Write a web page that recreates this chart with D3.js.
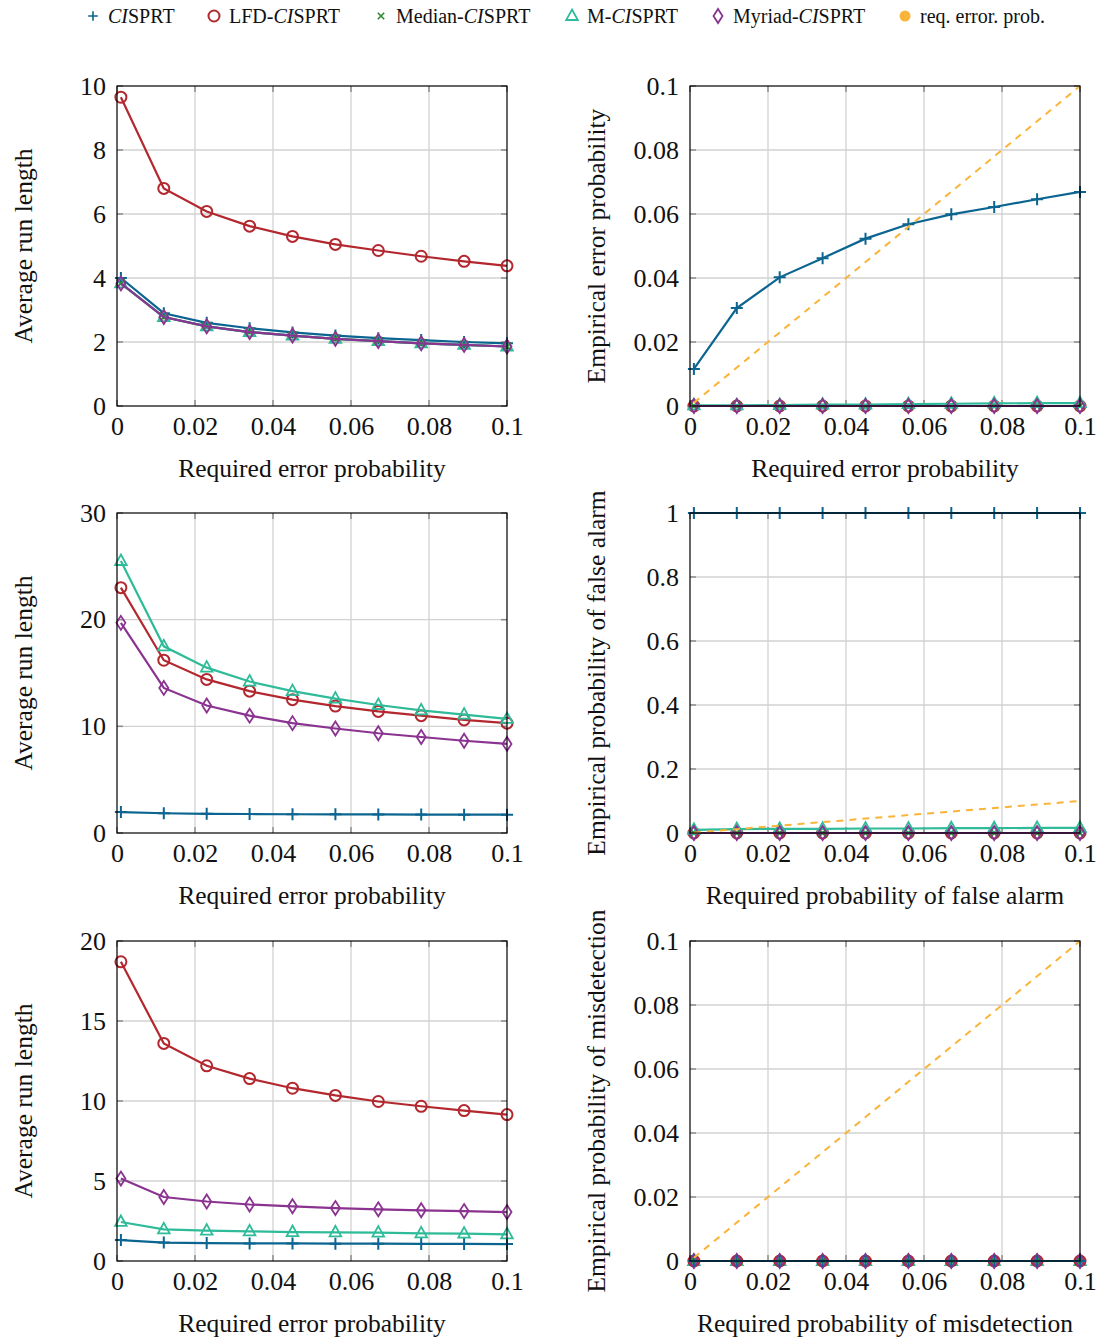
<!DOCTYPE html>
<html>
<head>
<meta charset="utf-8">
<script src="https://cdn.jsdelivr.net/npm/d3@7/dist/d3.min.js"></script>
<style>
  body { margin: 0; background: #fff; }
  text { font-family: "Liberation Serif", "DejaVu Serif", serif; fill: #111; }
</style>
</head>
<body>
<div id="chart"></div>
<script>
// required error probabilities (x values of every series)
const reqProb = [0.001, 0.012, 0.023, 0.034, 0.045, 0.056, 0.067, 0.078, 0.089, 0.1];
const xTicks = [0, 0.02, 0.04, 0.06, 0.08, 0.1];

// row 1, average run length
const arl1_ci     = [4.0, 2.9, 2.6, 2.43, 2.3, 2.2, 2.12, 2.06, 2.0, 1.96];
const arl1_lfd    = [9.65, 6.8, 6.08, 5.62, 5.3, 5.05, 4.86, 4.68, 4.52, 4.38];
const arl1_median = [3.83, 2.78, 2.49, 2.31, 2.2, 2.1, 2.03, 1.96, 1.91, 1.86];
const arl1_m      = [3.83, 2.78, 2.49, 2.31, 2.2, 2.1, 2.03, 1.96, 1.91, 1.86];
const arl1_myriad = [3.83, 2.78, 2.49, 2.31, 2.2, 2.1, 2.03, 1.96, 1.91, 1.86];
// row 1, empirical error probability
const err1_ci     = [0.0116, 0.0306, 0.0402, 0.0462, 0.0523, 0.0568, 0.0599, 0.0622, 0.0646, 0.0669];
const err1_lfd    = [0, 0, 0, 0, 0, 0, 0, 0, 0, 0];
const err1_median = [0, 0, 0, 0, 0, 0, 0, 0, 0, 0];
const err1_m      = [0.0002, 0.0002, 0.0003, 0.0004, 0.0004, 0.0006, 0.0007, 0.0008, 0.0009, 0.0009];
const err1_myriad = [0, 0, 0, 0, 0, 0, 0, 0, 0, 0];

// row 2, average run length
const arl2_ci     = [1.96, 1.85, 1.8, 1.78, 1.76, 1.75, 1.74, 1.73, 1.72, 1.72];
const arl2_lfd    = [23.0, 16.2, 14.4, 13.3, 12.5, 11.9, 11.4, 11.0, 10.6, 10.3];
const arl2_m      = [25.5, 17.5, 15.5, 14.2, 13.3, 12.6, 12.0, 11.5, 11.1, 10.7];
const arl2_myriad = [19.7, 13.6, 11.95, 11.0, 10.3, 9.8, 9.35, 9.0, 8.65, 8.35];
// row 2, empirical probability of false alarm
const fa2_ci      = [1, 1, 1, 1, 1, 1, 1, 1, 1, 1];
const fa2_lfd     = [0, 0, 0, 0, 0, 0, 0, 0, 0, 0];
const fa2_median  = [0, 0, 0, 0, 0, 0, 0, 0, 0, 0];
const fa2_m       = [0.01, 0.012, 0.013, 0.013, 0.014, 0.014, 0.015, 0.015, 0.016, 0.016];
const fa2_myriad  = [0, 0, 0, 0, 0, 0, 0, 0, 0, 0];

// row 3, average run length
const arl3_ci     = [1.31, 1.15, 1.12, 1.1, 1.1, 1.08, 1.08, 1.07, 1.07, 1.06];
const arl3_lfd    = [18.7, 13.6, 12.2, 11.4, 10.8, 10.35, 9.97, 9.67, 9.4, 9.15];
const arl3_m      = [2.44, 1.98, 1.9, 1.85, 1.81, 1.79, 1.77, 1.73, 1.71, 1.67];
const arl3_myriad = [5.15, 4.0, 3.72, 3.53, 3.42, 3.31, 3.23, 3.17, 3.12, 3.06];
// row 3, empirical probability of misdetection
const md3_ci      = [0, 0, 0, 0, 0, 0, 0, 0, 0, 0];
const md3_lfd     = [0, 0, 0, 0, 0, 0, 0, 0, 0, 0];
const md3_median  = [0, 0, 0, 0, 0, 0, 0, 0, 0, 0];
const md3_m       = [0, 0, 0, 0, 0, 0, 0, 0, 0, 0];
const md3_myriad  = [0, 0, 0, 0, 0, 0, 0, 0, 0, 0];

const legendNames = ["CISPRT", "LFD-CISPRT", "Median-CISPRT", "M-CISPRT", "Myriad-CISPRT", "req. error. prob."];

const colors = {
  ci: "#0b6590", lfd: "#b3282f", median: "#2f8a2f",
  m: "#2fbb99", myriad: "#8a3391", req: "#fbb43a"
};

const width = 1104, height = 1342;
const svg = d3.select("#chart").append("svg")
  .attr("width", width).attr("height", height);

// marker drawing
function marker(g, kind, color) {
  const s = g.append("g");
  if (kind === "ci") {
    s.append("path").attr("d", "M-6,0H6M0,-6V6")
      .attr("stroke", color).attr("stroke-width", 2).attr("fill", "none");
  } else if (kind === "lfd") {
    s.append("circle").attr("r", 5.5)
      .attr("stroke", color).attr("stroke-width", 2).attr("fill", "none");
  } else if (kind === "median") {
    s.append("path").attr("d", "M-4,-4L4,4M-4,4L4,-4")
      .attr("stroke", color).attr("stroke-width", 2).attr("fill", "none");
  } else if (kind === "m") {
    s.append("path").attr("d", "M0,-6.5L5.8,4L-5.8,4Z")
      .attr("stroke", color).attr("stroke-width", 1.8).attr("fill", "none");
  } else if (kind === "myriad") {
    s.append("path").attr("d", "M0,-7L4.5,0L0,7L-4.5,0Z")
      .attr("stroke", color).attr("stroke-width", 1.8).attr("fill", "none");
  } else if (kind === "req") {
    s.append("circle").attr("r", 5).attr("fill", color);
  }
  return s;
}

function fmtX(d) { return d === 0 ? "0" : String(+d.toFixed(2)); }

function panel(opt) {
  const g = svg.append("g").attr("transform", `translate(${opt.left},${opt.top})`);
  const w = 390, h = 320;
  const x = d3.scaleLinear().domain([0, 0.1]).range([0, w]);
  const y = d3.scaleLinear().domain([0, opt.ymax]).range([h, 0]);

  // grid
  g.append("g").selectAll("line").data(xTicks.slice(1, -1)).join("line")
    .attr("x1", d => x(d)).attr("x2", d => x(d)).attr("y1", 0).attr("y2", h)
    .attr("stroke", "#d2d2d2").attr("stroke-width", 1.3);
  g.append("g").selectAll("line").data(opt.yTicks.slice(1, -1)).join("line")
    .attr("y1", d => y(d)).attr("y2", d => y(d)).attr("x1", 0).attr("x2", w)
    .attr("stroke", "#d2d2d2").attr("stroke-width", 1.3);

  // inward ticks on all four sides
  const tk = 6;
  const tg = g.append("g").attr("stroke", "#8c8c8c").attr("stroke-width", 1.5);
  xTicks.forEach(d => {
    tg.append("line").attr("x1", x(d)).attr("x2", x(d)).attr("y1", h).attr("y2", h - tk);
    tg.append("line").attr("x1", x(d)).attr("x2", x(d)).attr("y1", 0).attr("y2", tk);
  });
  opt.yTicks.forEach(d => {
    tg.append("line").attr("y1", y(d)).attr("y2", y(d)).attr("x1", 0).attr("x2", tk);
    tg.append("line").attr("y1", y(d)).attr("y2", y(d)).attr("x1", w).attr("x2", w - tk);
  });

  // axes (labels only)
  const xa = g.append("g").attr("transform", `translate(0,${h})`)
    .call(d3.axisBottom(x).tickValues(xTicks).tickFormat(fmtX).tickSize(0).tickPadding(9));
  const ya = g.append("g")
    .call(d3.axisLeft(y).tickValues(opt.yTicks).tickFormat(opt.yFmt).tickSize(0).tickPadding(11));
  [xa, ya].forEach(a => {
    a.select(".domain").remove();
    a.selectAll("text").style("font-size", "26px")
      .style("font-family", "'Liberation Serif', serif").attr("fill", "#111");
  });
  xa.selectAll("text").attr("dy", "0.75em");

  // series
  const line = d3.line().x((d, i) => x(reqProb[i])).y(d => y(d));
  opt.series.forEach(s => {
    if (s.kind === "req") {
      g.append("path").datum(s.values).attr("d", line)
        .attr("fill", "none").attr("stroke", colors.req).attr("stroke-width", 2)
        .attr("stroke-dasharray", "7,6");
      return;
    }
    g.append("path").datum(s.values).attr("d", line)
      .attr("fill", "none").attr("stroke", colors[s.kind]).attr("stroke-width", 2.2);
    s.values.forEach((v, i) => {
      marker(g, s.kind, colors[s.kind]).attr("transform", `translate(${x(reqProb[i])},${y(v)})`);
    });
  });

  // frame
  g.append("rect").attr("width", w).attr("height", h)
    .attr("fill", "none").attr("stroke", "#000").attr("stroke-width", 1.2);

  // axis titles
  g.append("text").attr("x", w / 2).attr("y", h + 71)
    .attr("text-anchor", "middle").style("font-size", "25.5px").text(opt.xLabel);
  g.append("text")
    .attr("transform", `translate(${opt.yLabelX},${h / 2}) rotate(-90)`)
    .attr("text-anchor", "middle").style("font-size", "25.5px").text(opt.yLabel);
}

const fmtInt = d => String(d);
const fmtProb = d => d === 0 ? "0" : String(+d.toFixed(2));
const leftX = 117, rightX = 690;
const rows = [86, 513, 941];

panel({ left: leftX, top: rows[0], ymax: 10, yTicks: [0, 2, 4, 6, 8, 10], yFmt: fmtInt,
  xLabel: "Required error probability", yLabel: "Average run length", yLabelX: -85,
  series: [
    { kind: "ci", values: arl1_ci }, { kind: "lfd", values: arl1_lfd },
    { kind: "median", values: arl1_median }, { kind: "m", values: arl1_m },
    { kind: "myriad", values: arl1_myriad }
  ] });

panel({ left: rightX, top: rows[0], ymax: 0.1, yTicks: [0, 0.02, 0.04, 0.06, 0.08, 0.1], yFmt: fmtProb,
  xLabel: "Required error probability", yLabel: "Empirical error probability", yLabelX: -85,
  series: [
    { kind: "ci", values: err1_ci }, { kind: "lfd", values: err1_lfd },
    { kind: "median", values: err1_median }, { kind: "m", values: err1_m },
    { kind: "myriad", values: err1_myriad }, { kind: "req", values: reqProb }
  ] });

panel({ left: leftX, top: rows[1], ymax: 30, yTicks: [0, 10, 20, 30], yFmt: fmtInt,
  xLabel: "Required error probability", yLabel: "Average run length", yLabelX: -85,
  series: [
    { kind: "ci", values: arl2_ci }, { kind: "lfd", values: arl2_lfd },
    { kind: "m", values: arl2_m }, { kind: "myriad", values: arl2_myriad }
  ] });

panel({ left: rightX, top: rows[1], ymax: 1, yTicks: [0, 0.2, 0.4, 0.6, 0.8, 1], yFmt: fmtProb,
  xLabel: "Required probability of false alarm", yLabel: "Empirical probability of false alarm", yLabelX: -85,
  series: [
    { kind: "ci", values: fa2_ci }, { kind: "lfd", values: fa2_lfd },
    { kind: "median", values: fa2_median }, { kind: "m", values: fa2_m },
    { kind: "myriad", values: fa2_myriad }, { kind: "req", values: reqProb }
  ] });

panel({ left: leftX, top: rows[2], ymax: 20, yTicks: [0, 5, 10, 15, 20], yFmt: fmtInt,
  xLabel: "Required error probability", yLabel: "Average run length", yLabelX: -85,
  series: [
    { kind: "ci", values: arl3_ci }, { kind: "lfd", values: arl3_lfd },
    { kind: "m", values: arl3_m }, { kind: "myriad", values: arl3_myriad }
  ] });

panel({ left: rightX, top: rows[2], ymax: 0.1, yTicks: [0, 0.02, 0.04, 0.06, 0.08, 0.1], yFmt: fmtProb,
  xLabel: "Required probability of misdetection", yLabel: "Empirical probability of misdetection", yLabelX: -85,
  series: [
    { kind: "m", values: md3_m }, { kind: "median", values: md3_median },
    { kind: "lfd", values: md3_lfd }, { kind: "myriad", values: md3_myriad },
    { kind: "ci", values: md3_ci }, { kind: "req", values: reqProb }
  ] });

// legend
const legendKinds = ["ci", "lfd", "median", "m", "myriad", "req"];
const legendX = [93, 214, 381, 572, 718, 905];
const lg = svg.append("g");
legendKinds.forEach((k, i) => {
  const item = lg.append("g").attr("transform", `translate(${legendX[i]},16)`);
  const m = marker(item, k, colors[k]);
  if (k === "ci") m.attr("transform", "scale(0.8)");
  if (k === "req") m.attr("transform", "scale(1.1)");
  if (k === "median") m.attr("transform", "scale(0.8)");
  const t = item.append("text").attr("x", 15).attr("y", 6.5).style("font-size", "20px");
  const name = legendNames[i];
  const idx = name.indexOf("CI");
  if (idx >= 0) {
    t.append("tspan").text(name.slice(0, idx));
    t.append("tspan").style("font-style", "italic").text("CI");
    t.append("tspan").text(name.slice(idx + 2));
  } else {
    t.text(name);
  }
});
</script>
</body>
</html>
